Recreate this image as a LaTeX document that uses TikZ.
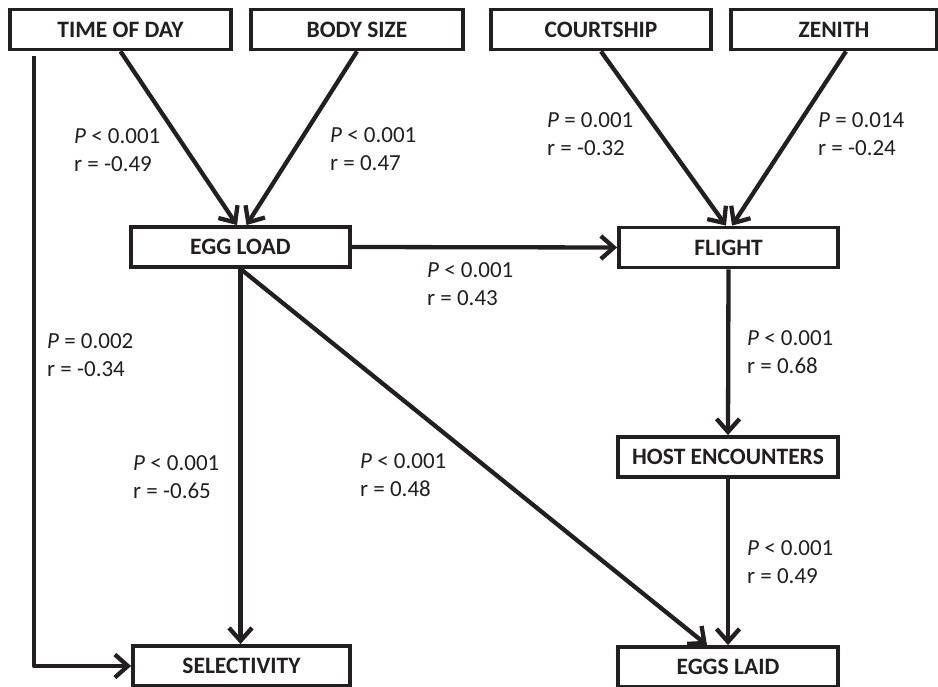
\documentclass[tikz,border=0pt]{standalone}
\usepackage{fontspec}
\setmainfont{Carlito}
\usetikzlibrary{arrows.meta,calc}
\definecolor{ink}{RGB}{35,31,32}
\begin{document}
\begin{tikzpicture}[x=1pt,y=-1pt,
  box/.style={draw=ink, line width=3.8pt, fill=white, inner sep=0pt,
    minimum height=40pt, font=\fontsize{23.5}{27}\selectfont\bfseries, text=ink},
  conn/.style={draw=ink, line width=4.3pt, line join=round,
    -{Straight Barb[length=13pt,width=23pt]}},
  lab/.style={anchor=north west, inner sep=0pt, align=left,
    font=\fontsize{23}{28}\selectfont, text=ink}]
\useasboundingbox (0,0) rectangle (938,687);

% boxes
\node[box, minimum width=221pt] (tod)    at (120.5,29.5) {TIME OF DAY};
\node[box, minimum width=212pt] (body)   at (357,29.5)   {BODY SIZE};
\node[box, minimum width=220pt] (court)  at (601,29.5)   {COURTSHIP};
\node[box, minimum width=206pt] (zenith) at (834,29.5)   {ZENITH};
\node[box, minimum width=219pt] (eggload) at (240.5,247) {EGG LOAD};
\node[box, minimum width=219pt] (flight)  at (728.5,247.5) {FLIGHT};
\node[box, minimum width=220pt] (host)    at (728,457)   {HOST ENCOUNTERS};
\node[box, minimum width=217pt] (select)  at (241.5,666) {SELECTIVITY};
\node[box, minimum width=220pt] (eggs)    at (728,667)   {EGGS LAID};

\coordinate (todleft) at (34,56);

% connectors
\draw[conn] (tod.south) -- ([xshift=-3.5pt]eggload.north);
\draw[conn] (body.south) -- ([xshift=6pt]eggload.north);
\draw[conn] (court.south) -- ([xshift=-2.5pt]flight.north);
\draw[conn] ([xshift=12pt]zenith.south) -- ([xshift=3.5pt]flight.north);
\draw[conn] (eggload.east) -- (flight.west);
\draw[conn] (flight.south) -- (host.north);
\draw[conn] (host.south) -- (eggs.north);
\draw[conn] (eggload.south) -- (eggload.south |- select.north);
\draw[conn] (eggload.south) -- ([xshift=-21pt]eggs.north);
\draw[conn] (todleft) -- (todleft |- select.west) -- (select.west);

% labels
\node[lab] (l1)  at (74,128.5)  {\textit{P} < 0.001\\r = -0.49};
\node[lab] (l2)  at (330,127.5) {\textit{P} < 0.001\\r = 0.47};
\node[lab] (l3)  at (547,112.5) {\textit{P} = 0.001\\r = -0.32};
\node[lab] (l4)  at (818,112.5) {\textit{P} = 0.014\\r = -0.24};
\node[lab] (l5)  at (427,262.5) {\textit{P} < 0.001\\r = 0.43};
\node[lab] (l6)  at (47,333.5)  {\textit{P} = 0.002\\r = -0.34};
\node[lab] (l7)  at (747,330.5) {\textit{P} < 0.001\\r = 0.68};
\node[lab] (l8)  at (133,455.5) {\textit{P} < 0.001\\r = -0.65};
\node[lab] (l9)  at (360,453.5) {\textit{P} < 0.001\\r = 0.48};
\node[lab] (l10) at (747,540.5) {\textit{P} < 0.001\\r = 0.49};
\end{tikzpicture}
\end{document}
